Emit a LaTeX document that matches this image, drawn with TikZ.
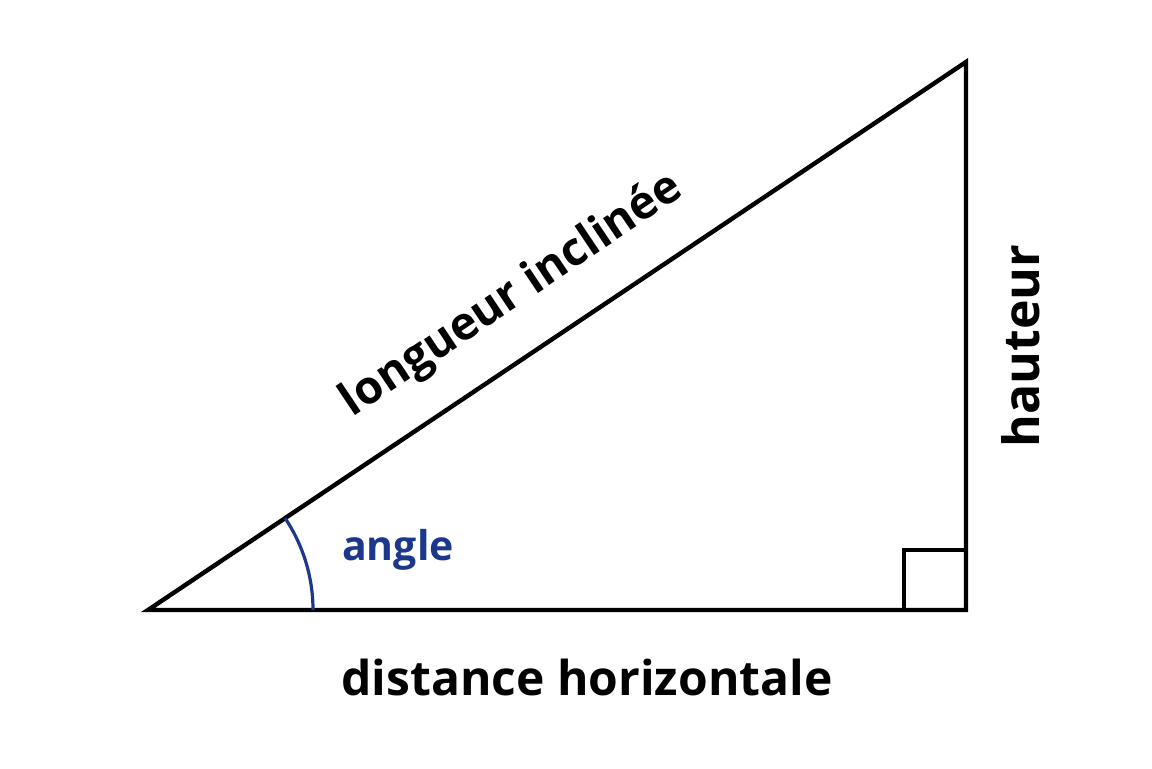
\documentclass[tikz,border=0pt]{standalone}
\usepackage{fontspec}
\setmainfont{Open Sans}
\definecolor{bleu}{RGB}{28,56,140}
\begin{document}
\begin{tikzpicture}[x=0.5pt,y=0.5pt]
\tikzset{etiquette/.style={font=\bfseries\fontsize{23}{27}\selectfont}}
\useasboundingbox (0,0) rectangle (1152,768);
\coordinate (A) at (148,158);
\coordinate (B) at (966,158);
\coordinate (C) at (966,706);
\draw[line width=2.2pt] (A) -- (B) -- (C) -- cycle;
\draw[line width=2.2pt] ([xshift=-31pt]B) |- ([yshift=30pt]B);
\draw[bleu, line width=1.6pt] ([xshift=82.5pt]A) arc[start angle=0, end angle=33.8, radius=165];
\path (A) -- (C) node[etiquette, pos=0.485, sloped, above=14pt] (incl) {longueur inclinée};
\node[etiquette, font=\bfseries\fontsize{25}{29}\selectfont, rotate=90] (haut) at (1021,422) {hauteur};
\node[etiquette, font=\bfseries\fontsize{24}{28}\selectfont] (dist) at (587,91) {distance horizontale};
\node[etiquette, text=bleu, font=\bfseries\fontsize{20.5}{24}\selectfont] (ang) at (398,218) {angle};
\end{tikzpicture}
\end{document}
